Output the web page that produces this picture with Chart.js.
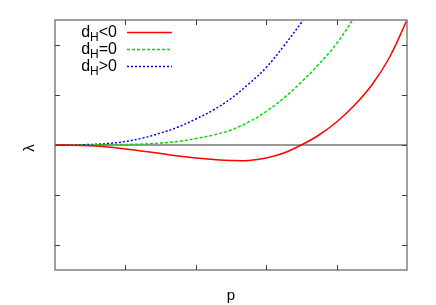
<!DOCTYPE html>
<html>
<head>
<meta charset="utf-8">
<script src="https://cdn.jsdelivr.net/npm/chart.js@4.4.1/dist/chart.umd.min.js"></script>
<style>
html, body { margin: 0; padding: 0; background: #fff; }
#wrap { width: 436px; height: 305px; }
</style>
</head>
<body>
<div id="wrap"><canvas id="lambdaChart"></canvas></div>
<script>
// values
var pNeg = [0, 0.25, 0.5, 0.75, 1.0, 1.25, 1.5, 1.75, 2.0, 2.25, 2.5, 2.75, 3.0, 3.25, 3.5, 3.75, 4.0, 4.25, 4.5, 4.75, 5.0];
var lamNeg = [0, -0.003, -0.015, -0.04, -0.08, -0.125, -0.17, -0.22, -0.26, -0.29, -0.31, -0.31, -0.26, -0.16, 0.0, 0.2, 0.46, 0.79, 1.2, 1.75, 2.5];

var pZero = [0, 0.25, 0.5, 0.75, 1.0, 1.25, 1.5, 1.75, 2.0, 2.25, 2.5, 2.75, 3.0, 3.25, 3.5, 3.75, 4.0, 4.25, 4.5];
var lamZero = [0, 0.0005, 0.002, 0.005, 0.01, 0.02, 0.04, 0.07, 0.13, 0.2, 0.3, 0.46, 0.67, 0.94, 1.26, 1.62, 2.03, 2.55, 3.1];

var pPos = [0, 0.25, 0.5, 0.75, 1.0, 1.25, 1.5, 1.75, 2.0, 2.25, 2.5, 2.75, 3.0, 3.25, 3.5, 3.75];
var lamPos = [0, 0.002, 0.01, 0.03, 0.07, 0.14, 0.24, 0.36, 0.52, 0.7, 0.93, 1.22, 1.55, 1.98, 2.45, 2.95];

var xTicks = [1, 2, 3, 4];
var yTicks = [-2, -1, 0, 1, 2];
var legendLabels = [["d", "H", "<0"], ["d", "H", "=0"], ["d", "H", ">0"]];

function toPoints(xs, ys)
{
    var pts = [];
    xs.forEach(function(valor, indice){
        pts.push({x: valor, y: ys[indice]});
    });
    return pts;
}

var lineColors = ['rgb(255,0,0)', 'rgb(0,220,0)', 'rgb(0,0,255)'];
var lineDash = [[], [3, 2], [2, 2]];

// border, inward ticks, titles and legend with subscripts
var framePlugin = {
    id: 'frame',
    afterDraw: function(chart) {
        var ctx = chart.ctx;
        var a = chart.chartArea;
        var xs = chart.scales.x, ys = chart.scales.y;
        ctx.save();
        ctx.strokeStyle = '#808080';
        ctx.lineWidth = 1.5;
        ctx.strokeRect(a.left, a.top, a.right - a.left, a.bottom - a.top);

        ctx.strokeStyle = '#404040';
        ctx.lineWidth = 1;
        ctx.beginPath();
        xTicks.forEach(function(v){
            var px = Math.round(xs.getPixelForValue(v)) + 0.5;
            ctx.moveTo(px, a.bottom); ctx.lineTo(px, a.bottom - 5);
            ctx.moveTo(px, a.top); ctx.lineTo(px, a.top + 5);
        });
        yTicks.forEach(function(v){
            var py = Math.round(ys.getPixelForValue(v)) + 0.5;
            ctx.moveTo(a.left, py); ctx.lineTo(a.left + 5, py);
            ctx.moveTo(a.right, py); ctx.lineTo(a.right - 5, py);
        });
        ctx.stroke();

        ctx.fillStyle = '#000';
        ctx.textAlign = 'center';
        ctx.textBaseline = 'middle';
        ctx.font = '15px "Liberation Sans", Arial, sans-serif';
        ctx.fillText('p', (a.left + a.right) / 2, 296);
        ctx.save();
        ctx.translate(30, (a.top + a.bottom) / 2 + 3);
        ctx.rotate(-Math.PI / 2);
        ctx.fillText('\u03bb', 0, 0);
        ctx.restore();

        // legend
        var bigFont = '16px "Liberation Sans", Arial, sans-serif';
        var smallFont = '12px "Liberation Sans", Arial, sans-serif';
        ctx.textAlign = 'left';
        ctx.textBaseline = 'alphabetic';
        legendLabels.forEach(function(lab, i){
            var rowY = 32 + i * 17;
            ctx.font = bigFont;
            var w1 = ctx.measureText(lab[0]).width;
            var w3 = ctx.measureText(lab[2]).width;
            ctx.font = smallFont;
            var w2 = ctx.measureText(lab[1]).width;
            var x0 = 117 - (w1 + w2 + w3);
            var base = rowY + 5;
            ctx.font = bigFont;
            ctx.fillText(lab[0], x0, base);
            ctx.font = smallFont;
            ctx.fillText(lab[1], x0 + w1, base + 4);
            ctx.font = bigFont;
            ctx.fillText(lab[2], x0 + w1 + w2, base);

            ctx.strokeStyle = lineColors[i];
            ctx.lineWidth = 1.5;
            ctx.setLineDash(lineDash[i]);
            ctx.beginPath();
            ctx.moveTo(127, rowY + 0.5);
            ctx.lineTo(172, rowY + 0.5);
            ctx.stroke();
            ctx.setLineDash([]);
        });
        ctx.restore();
    }
};

var lambdaChart = new Chart("lambdaChart", {
    type: 'line',
    data: {
        datasets: [
          {
            label: 'dH<0',
            data: toPoints(pNeg, lamNeg),
            borderColor: lineColors[0],
            borderWidth: 1.5,
            borderDash: lineDash[0],
            pointRadius: 0,
            tension: 0.4
          },
          {
            label: 'dH=0',
            data: toPoints(pZero, lamZero),
            borderColor: lineColors[1],
            borderWidth: 1.5,
            borderDash: lineDash[1],
            pointRadius: 0,
            tension: 0.4
          },
          {
            label: 'dH>0',
            data: toPoints(pPos, lamPos),
            borderColor: lineColors[2],
            borderWidth: 1.5,
            borderDash: lineDash[2],
            pointRadius: 0,
            tension: 0.4
          },
          {
            label: 'zero',
            data: toPoints([0, 5], [0, 0]),
            borderColor: '#303030',
            borderWidth: 1,
            pointRadius: 0
          }
        ]
    },
    options: {
        responsive: true,
        maintainAspectRatio: false,
        animation: false,
        events: [],
        layout: { padding: { left: 0, right: 29, top: 20, bottom: 0 } },
        plugins: {
            legend: { display: false },
            tooltip: { enabled: false }
        },
        scales: {
            x: {
                type: 'linear',
                min: 0,
                max: 5,
                grid: { display: false },
                border: { display: false },
                ticks: { display: false },
                afterFit: function(s) { s.height = 35; }
            },
            y: {
                type: 'linear',
                min: -2.5,
                max: 2.5,
                grid: { display: false },
                border: { display: false },
                ticks: { display: false },
                afterFit: function(s) { s.width = 55; }
            }
        }
    },
    plugins: [framePlugin]
});
</script>
</body>
</html>
